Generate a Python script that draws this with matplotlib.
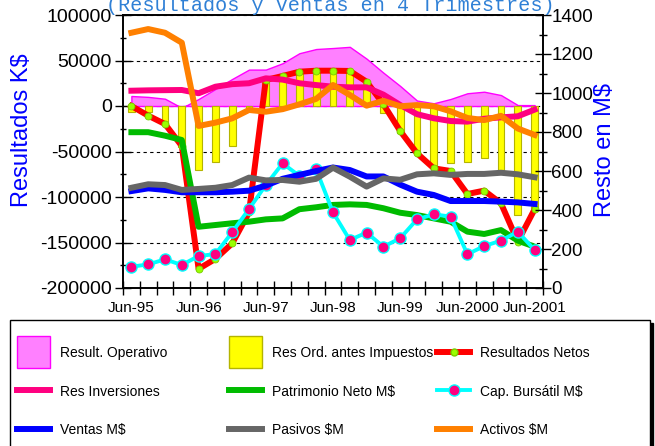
import numpy as np
import matplotlib
matplotlib.use("Agg")
import matplotlib.pyplot as plt
from matplotlib.lines import Line2D
from matplotlib.patches import Patch, Rectangle
from matplotlib.legend_handler import HandlerPatch
from matplotlib.ticker import MultipleLocator

plt.rcParams['axes.unicode_minus'] = False
plt.rcParams['font.family'] = ['Liberation Sans', 'DejaVu Sans']

# 25 trimestres, Jun-95 .. Jun-2001
n_trim = 25
etiquetas = ["Jun-95", "Jun-96", "Jun-97", "Jun-98", "Jun-99", "Jun-2000", "Jun-2001"]

# eje izquierdo (K$)
res_operativo = [11000, 10000, 8000, -2000, 7700, 18700, 29700, 40000, 40000, 47000, 58000, 62600, 63700,
                 65000, 52000, 36600, 22000, 6000, 3000, 7700, 14000, 15700, 12000, 1000, 1000]
res_ord = [-6200, -7000, -20000, -45000, -70000, -61000, -43600, -4000, 27000, 33000, 38800, 41000, 41000,
           39000, 27500, -8000, -30000, -52000, -66000, -63000, -61000, -57500, -70000, -120000, -112000]
res_netos = [0, -10600, -19800, -44000, -179000, -168000, -151000, -117000, 28600, 33000, 37700, 38800, 38800,
             38500, 26700, 1900, -27500, -52000, -68500, -71400, -96700, -93000, -107000, -149000, -113500]
res_inversiones = [16800, 17200, 17400, 17600, 14000, 21200, 24000, 25000, 30400, 29000, 25000, 23000, 21200,
                   20500, 20500, 12500, 1100, -9000, -13500, -16500, -17200, -14000, -12500, -11300, -4000]

# eje derecho (M$)
patrimonio = [799, 799, 781, 759, 314, 323, 332, 340, 352, 357, 404, 414, 426,
              429, 426, 409, 386, 374, 357, 340, 289, 277, 297, 243, 212]
cap_bursatil = [109, 121, 147, 118, 164, 174, 286, 405, 528, 639, 575, 608, 388,
                246, 284, 212, 255, 352, 378, 366, 173, 215, 243, 289, 195]
ventas = [497, 511, 503, 491, 491, 491, 494, 499, 525, 560, 580, 600, 618,
          605, 572, 572, 530, 494, 477, 446, 446, 446, 443, 439, 431]
pasivos = [514, 532, 528, 503, 508, 514, 528, 566, 552, 554, 545, 560, 617,
           571, 520, 562, 555, 583, 588, 580, 585, 585, 591, 583, 568]
activos = [1309, 1328, 1309, 1258, 831, 848, 870, 913, 904, 917, 942, 970, 1041,
           990, 935, 960, 932, 938, 932, 906, 872, 861, 883, 818, 785]

W, H = 655, 446
fig = plt.figure(figsize=(W / 100, H / 100), dpi=100)
ax = fig.add_axes([123 / W, 1 - 288 / H, 420 / W, 273 / H])
x = np.arange(n_trim)

ax.fill_between(x, 0, res_operativo, facecolor='#FF80FF', edgecolor='#FF00FF', lw=1, zorder=1)
ax.bar(x, res_ord, width=0.4, color='#FFFF00', edgecolor='#B4B400', lw=0.8, zorder=2)
ax.plot(x, res_netos, color='#FF0000', lw=4.3, marker='o', ms=5, mfc='#99FF00', mec='#77CC00',
        mew=0.6, zorder=3)
ax.plot(x, res_inversiones, color='#FF0080', lw=4.3, zorder=4)

ax.set_xlim(-0.5, n_trim - 0.5)
ax.set_ylim(-200000, 100000)
ax.yaxis.set_major_locator(MultipleLocator(50000))
ax.yaxis.set_minor_locator(MultipleLocator(25000))
ax.set_axisbelow(True)
ax.yaxis.grid(True, which='major', linestyle=(0, (3, 3)), color='black', lw=0.8)
for t in ax.yaxis.get_major_ticks():
    if abs(t.get_loc() + 100000) < 1:
        t.gridline.set_color('#888888')

ax.set_xticks(np.arange(-0.5, n_trim, 1))
ax.set_xticklabels([])
ax.set_xticks(np.arange(0, n_trim, 4), minor=True)
ax.set_xticklabels(etiquetas, minor=True)
ax.tick_params(axis='x', which='major', direction='inout', length=10, width=1)
ax.tick_params(axis='x', which='minor', length=0, labelsize=11, pad=9)
ax.tick_params(axis='y', which='major', direction='inout', length=12, width=1, labelsize=14, pad=2)
ax.tick_params(axis='y', which='minor', direction='inout', length=5, width=1)

ax2 = ax.twinx()
ax2.plot(x, patrimonio, color='#00BB00', lw=4.3)
ax2.plot(x, cap_bursatil, color='#00FFFF', lw=2.8, marker='o', ms=8, mfc='#FF0080', mec='#00FFFF', mew=1)
ax2.plot(x, ventas, color='#0000FF', lw=4.3)
ax2.plot(x, pasivos, color='#666666', lw=4.3)
ax2.plot(x, activos, color='#FF8000', lw=4.3)
ax2.set_ylim(0, 1400)
ax2.yaxis.set_major_locator(MultipleLocator(200))
ax2.yaxis.set_minor_locator(MultipleLocator(100))
ax2.tick_params(axis='y', which='major', direction='inout', length=12, width=1, labelsize=13.5, pad=0)
ax2.tick_params(axis='y', which='minor', direction='inout', length=6, width=1)

for a in (ax, ax2):
    for s in a.spines.values():
        s.set_linewidth(1.2)

fig.text(330 / W, 1 - 11 / H, "(Resultados y Ventas en 4 Trimestres)", ha='center', va='baseline',
         fontsize=14.5, family=['Liberation Mono', 'DejaVu Sans Mono'], color='#2F80D6')
fig.text(22 / W, 1 - 130 / H, "Resultados K$", rotation=90, ha='center', va='center',
         fontsize=17, color='#0000FF')
fig.text(605 / W, 1 - 150 / H, "Resto en M$", rotation=90, ha='center', va='center',
         fontsize=17, color='#0000FF')

# leyenda: marco con sombra + tres columnas
fig.patches.append(Rectangle((13 / W, -0.05), 640 / W, (1 - 323 / H) + 0.05, transform=fig.transFigure,
                             facecolor='black', edgecolor='black', zorder=0))
fig.patches.append(Rectangle((10 / W, -0.05), 640 / W, (1 - 320 / H) + 0.05, transform=fig.transFigure,
                             facecolor='white', edgecolor='black', lw=1, zorder=1))


def cuadro(legend, orig_handle, xdescent, ydescent, width, height, fontsize):
    # cuadrado alto (unos 33x32 px) centrado en la fila
    h = 23.0
    cy = -ydescent + height / 2.0
    return Rectangle((-xdescent, cy - h / 2.0), 24.0, h)


h_op = Patch(facecolor='#FF80FF', edgecolor='#FF00FF')
h_ord = Patch(facecolor='#FFFF00', edgecolor='#B4B400')
h_net = Line2D([], [], color='#FF0000', lw=4.3, marker='o', ms=5, mfc='#99FF00', mec='#77CC00')
h_inv = Line2D([], [], color='#FF0080', lw=4.3)
h_pat = Line2D([], [], color='#00BB00', lw=4.3)
h_cap = Line2D([], [], color='#00FFFF', lw=2.8, marker='o', ms=8, mfc='#FF0080', mec='#00FFFF')
h_ven = Line2D([], [], color='#0000FF', lw=4.3)
h_pas = Line2D([], [], color='#666666', lw=4.3)
h_act = Line2D([], [], color='#FF8000', lw=4.3)

columnas = [
    ([h_op, h_inv, h_ven], ["Result. Operativo", "Res Inversiones", "Ventas M$"], 17),
    ([h_ord, h_pat, h_pas], ["Res Ord. antes Impuestos", "Patrimonio Neto M$", "Pasivos $M"], 229),
    ([h_net, h_cap, h_act], ["Resultados Netos", "Cap. Bursátil M$", "Activos $M"], 437),
]
for hs, ls, x0 in columnas:
    leg = fig.legend(hs, ls, loc='upper left', bbox_to_anchor=(x0 / W, 1 - 346 / H), frameon=False,
                     borderpad=0, borderaxespad=0, handlelength=2.4, handleheight=1.0,
                     labelspacing=1.78, handletextpad=0.7, numpoints=1,
                     handler_map={Patch: HandlerPatch(patch_func=cuadro)},
                     prop={'family': ['Liberation Sans Narrow', 'Liberation Sans'], 'size': 10})
    leg.set_zorder(5)

fig.savefig("out.png", dpi=100)
